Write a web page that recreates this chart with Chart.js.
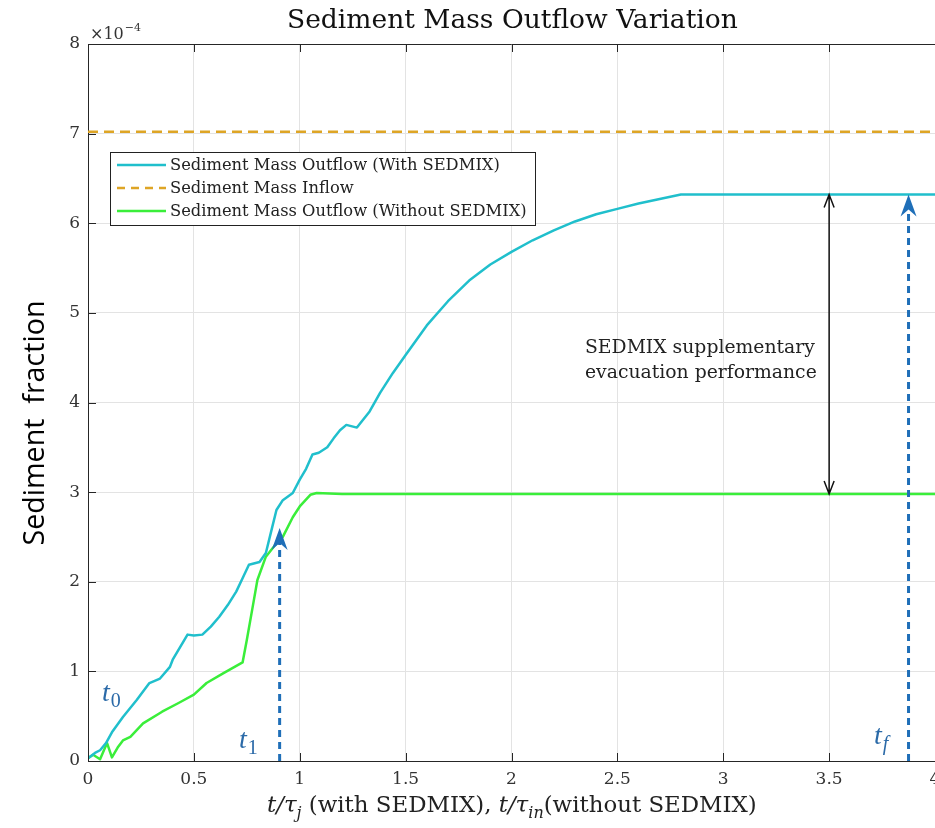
<!DOCTYPE html>
<html>
<head>
<meta charset="utf-8">
<script src="https://cdn.jsdelivr.net/npm/chart.js@4"></script>
<style>
  html, body { margin: 0; padding: 0; background: #fff; }
  canvas { display: block; }
</style>
</head>
<body>
<canvas id="chart" width="935" height="828"></canvas>
<script>
// values (y in units of 1e-4)
const timeWith = [0, 0.033, 0.057, 0.085, 0.113, 0.165, 0.23, 0.29, 0.34, 0.387, 0.40, 0.47, 0.50, 0.54, 0.58, 0.62, 0.66, 0.70, 0.73, 0.76, 0.81, 0.84, 0.87, 0.89, 0.92, 0.967, 1.0, 1.03, 1.06, 1.09, 1.13, 1.16, 1.19, 1.22, 1.27, 1.33, 1.38, 1.44, 1.5, 1.6, 1.7, 1.8, 1.9, 2.0, 2.1, 2.2, 2.3, 2.4, 2.5, 2.6, 2.7, 2.8, 3.0, 3.5, 4.0];
const fracWith = [0.03, 0.09, 0.12, 0.2, 0.32, 0.49, 0.68, 0.87, 0.92, 1.05, 1.13, 1.41, 1.40, 1.41, 1.50, 1.61, 1.74, 1.89, 2.04, 2.19, 2.22, 2.32, 2.61, 2.80, 2.91, 2.99, 3.14, 3.26, 3.42, 3.44, 3.50, 3.60, 3.69, 3.75, 3.72, 3.90, 4.11, 4.33, 4.53, 4.86, 5.13, 5.36, 5.54, 5.68, 5.81, 5.92, 6.02, 6.10, 6.16, 6.22, 6.27, 6.32, 6.32, 6.32, 6.32];

const timeWithout = [0, 0.024, 0.057, 0.09, 0.113, 0.14, 0.165, 0.2, 0.26, 0.35, 0.43, 0.5, 0.56, 0.64, 0.73, 0.75, 0.78, 0.80, 0.84, 0.88, 0.92, 0.967, 1.0, 1.05, 1.08, 1.2, 1.5, 2.0, 3.0, 4.0];
const fracWithout = [0.03, 0.07, 0.02, 0.2, 0.04, 0.15, 0.23, 0.27, 0.42, 0.55, 0.65, 0.74, 0.87, 0.98, 1.10, 1.35, 1.75, 2.02, 2.28, 2.40, 2.50, 2.72, 2.84, 2.97, 2.99, 2.98, 2.98, 2.98, 2.98, 2.98];

const timeInflow = [0, 4];
const fracInflow = [7.02, 7.02];

const seriesNames = [
  "Sediment Mass Outflow (With SEDMIX)",
  "Sediment Mass Inflow",
  "Sediment Mass Outflow (Without SEDMIX)"
];

// annotation anchors in data units
const gapArrow = { x: 3.5, top: 6.32, bottom: 2.98 };
const t1Arrow = { x: 0.905, top: 2.6 };
const tfArrow = { x: 3.875, top: 6.32 };

const SERIF = '"DejaVu Serif", "Liberation Serif", serif';
const SANS = '"Open Sans", "Noto Sans", sans-serif';
const CYAN = "#20bfcc";
const GOLD = "#dea525";
const GREEN = "#3aee3a";
const BLUE = "#1f6fb8";
const AXIS = "#262626";

function pts(xs, ys) {
  return xs.map((x, i) => ({ x: x, y: ys[i] }));
}

function fitSize(ctx, text, family, width) {
  ctx.font = "100px " + family;
  return 100 * width / ctx.measureText(text).width;
}

function blueArrow(ctx, x, y0, y1) {
  ctx.save();
  ctx.strokeStyle = BLUE;
  ctx.lineWidth = 3;
  ctx.setLineDash([7, 5]);
  ctx.beginPath();
  ctx.moveTo(x, y0);
  ctx.lineTo(x, y1 + 14);
  ctx.stroke();
  ctx.setLineDash([]);
  ctx.fillStyle = BLUE;
  ctx.beginPath();
  ctx.moveTo(x, y1);
  ctx.lineTo(x + 8, y1 + 22);
  ctx.lineTo(x, y1 + 15);
  ctx.lineTo(x - 8, y1 + 22);
  ctx.closePath();
  ctx.fill();
  ctx.restore();
}

function mathLabel(ctx, x, y, sub) {
  ctx.save();
  ctx.fillStyle = "#2b6aa8";
  ctx.textBaseline = "alphabetic";
  ctx.textAlign = "left";
  ctx.font = 'italic 28px "Liberation Serif", serif';
  ctx.fillText("t", x, y);
  const w = ctx.measureText("t").width;
  ctx.font = (sub === "f" ? "italic " : "") + '20px "Liberation Serif", serif';
  ctx.fillText(sub, x + w + 1, y + 6);
  ctx.restore();
}

const decor = {
  id: "decor",
  afterDraw(chart) {
    const ctx = chart.ctx;
    const a = chart.chartArea;
    const xs = chart.scales.x;
    const ys = chart.scales.y;

    ctx.save();
    // box top and inward ticks
    ctx.strokeStyle = AXIS;
    ctx.lineWidth = 1;
    ctx.beginPath();
    ctx.moveTo(a.left, a.top + 0.5);
    ctx.lineTo(a.right, a.top + 0.5);
    xs.ticks.forEach(t => {
      const px = Math.round(xs.getPixelForValue(t.value)) + 0.5;
      ctx.moveTo(px, a.bottom);
      ctx.lineTo(px, a.bottom - 8);
      ctx.moveTo(px, a.top);
      ctx.lineTo(px, a.top + 8);
    });
    ys.ticks.forEach(t => {
      const py = Math.round(ys.getPixelForValue(t.value)) + 0.5;
      ctx.moveTo(a.left, py);
      ctx.lineTo(a.left + 8, py);
    });
    ctx.stroke();

    // title
    ctx.fillStyle = "#111";
    ctx.textAlign = "left";
    ctx.textBaseline = "alphabetic";
    const title = "Sediment Mass Outflow Variation";
    ctx.font = fitSize(ctx, title, SERIF, 451) + "px " + SERIF;
    ctx.fillText(title, 287, 28);

    // exponent
    ctx.fillStyle = "#333";
    ctx.font = "16px " + SERIF;
    ctx.fillText("\u00d710", 90, 39);
    const ew = ctx.measureText("\u00d710").width;
    ctx.font = "11px " + SERIF;
    ctx.fillText("\u22124", 90 + ew + 1, 31);

    // y label
    ctx.save();
    ctx.translate(44, 423);
    ctx.rotate(-Math.PI / 2);
    ctx.fillStyle = "#000";
    ctx.textAlign = "center";
    const yl = "Sediment  fraction";
    ctx.font = fitSize(ctx, yl, SANS, 245) + "px " + SANS;
    ctx.fillText(yl, 0, 0);
    ctx.restore();

    // x label with math parts
    const parts = [
      ["t/\u03c4", "italic 20px"], ["j", "italic 14px", 5],
      [" (with SEDMIX), ", "20px"],
      ["t/\u03c4", "italic 20px"], ["in", "italic 14px", 5],
      ["(without SEDMIX)", "20px"]
    ];
    let total = 0;
    parts.forEach(p => { ctx.font = p[1] + " " + SERIF; total += ctx.measureText(p[0]).width; });
    const k = 490 / total;
    let cx = 512 - 245;
    ctx.fillStyle = "#222";
    parts.forEach(p => {
      const size = parseFloat(p[1].replace("italic ", "")) * k;
      ctx.font = (p[1].indexOf("italic") >= 0 ? "italic " : "") + size + "px " + SERIF;
      ctx.fillText(p[0], cx, 812 + (p[2] || 0) * k);
      cx += ctx.measureText(p[0]).width;
    });

    // legend
    ctx.fillStyle = "#fff";
    ctx.fillRect(110, 152, 425, 73);
    ctx.strokeStyle = "#222";
    ctx.lineWidth = 1;
    ctx.strokeRect(110.5, 152.5, 425, 73);
    const rowY = [165, 188, 211];
    const cols = [CYAN, GOLD, GREEN];
    const lsize = fitSize(ctx, seriesNames[0], SERIF, 330);
    seriesNames.forEach((name, i) => {
      ctx.strokeStyle = cols[i];
      ctx.lineWidth = 2.5;
      ctx.setLineDash(i === 1 ? [8, 6] : []);
      ctx.beginPath();
      ctx.moveTo(117, rowY[i]);
      ctx.lineTo(166, rowY[i]);
      ctx.stroke();
      ctx.setLineDash([]);
      ctx.fillStyle = "#222";
      ctx.font = lsize + "px " + SERIF;
      ctx.textBaseline = "middle";
      ctx.fillText(name, 170, rowY[i] + 1);
    });
    ctx.textBaseline = "alphabetic";

    // double arrow for the gap
    const gx = xs.getPixelForValue(gapArrow.x);
    const gTop = ys.getPixelForValue(gapArrow.top);
    const gBot = ys.getPixelForValue(gapArrow.bottom);
    ctx.strokeStyle = "#111";
    ctx.lineWidth = 1.5;
    ctx.beginPath();
    ctx.moveTo(gx, gTop);
    ctx.lineTo(gx, gBot);
    ctx.moveTo(gx - 5, gTop + 13);
    ctx.lineTo(gx, gTop);
    ctx.lineTo(gx + 5, gTop + 13);
    ctx.moveTo(gx - 5, gBot - 13);
    ctx.lineTo(gx, gBot);
    ctx.lineTo(gx + 5, gBot - 13);
    ctx.stroke();

    ctx.fillStyle = "#222";
    const l1 = "SEDMIX supplementary";
    ctx.font = fitSize(ctx, l1, SERIF, 230) + "px " + SERIF;
    ctx.fillText(l1, 585, 353);
    ctx.fillText("evacuation performance", 585, 378);

    // blue markers
    blueArrow(ctx, xs.getPixelForValue(t1Arrow.x), a.bottom, ys.getPixelForValue(t1Arrow.top));
    blueArrow(ctx, xs.getPixelForValue(tfArrow.x), a.bottom, ys.getPixelForValue(tfArrow.top));
    mathLabel(ctx, 102, 701, "0");
    mathLabel(ctx, 239, 748, "1");
    mathLabel(ctx, 874, 744, "f");
    ctx.restore();
  }
};

new Chart(document.getElementById("chart"), {
  type: "line",
  data: {
    datasets: [
      { label: seriesNames[0], data: pts(timeWith, fracWith), borderColor: CYAN, borderWidth: 2.5 },
      { label: seriesNames[1], data: pts(timeInflow, fracInflow), borderColor: GOLD, borderWidth: 2.5, borderDash: [10, 6] },
      { label: seriesNames[2], data: pts(timeWithout, fracWithout), borderColor: GREEN, borderWidth: 2.5 }
    ]
  },
  options: {
    responsive: false,
    animation: false,
    elements: { point: { radius: 0 }, line: { tension: 0, borderJoinStyle: "round" } },
    layout: { padding: { top: 44, left: 0, right: 0, bottom: 0 } },
    plugins: { legend: { display: false }, tooltip: { enabled: false }, title: { display: false } },
    scales: {
      x: {
        type: "linear", min: 0, max: 4,
        ticks: { stepSize: 0.5, maxRotation: 0, padding: 8, color: "#333", font: { family: SERIF, size: 17 }, callback: v => String(v) },
        grid: { color: "#e3e3e3", drawTicks: false },
        border: { color: AXIS },
        afterFit(s) { s.height = 67; s.paddingLeft = 0; s.paddingRight = 0; }
      },
      y: {
        min: 0, max: 8,
        ticks: { stepSize: 1, padding: 8, color: "#333", font: { family: SERIF, size: 17 }, callback: v => String(v) },
        grid: { color: "#e3e3e3", drawTicks: false },
        border: { color: AXIS },
        afterFit(s) { s.width = 88; s.paddingTop = 0; s.paddingBottom = 0; }
      }
    }
  },
  plugins: [decor]
});
</script>
</body>
</html>
